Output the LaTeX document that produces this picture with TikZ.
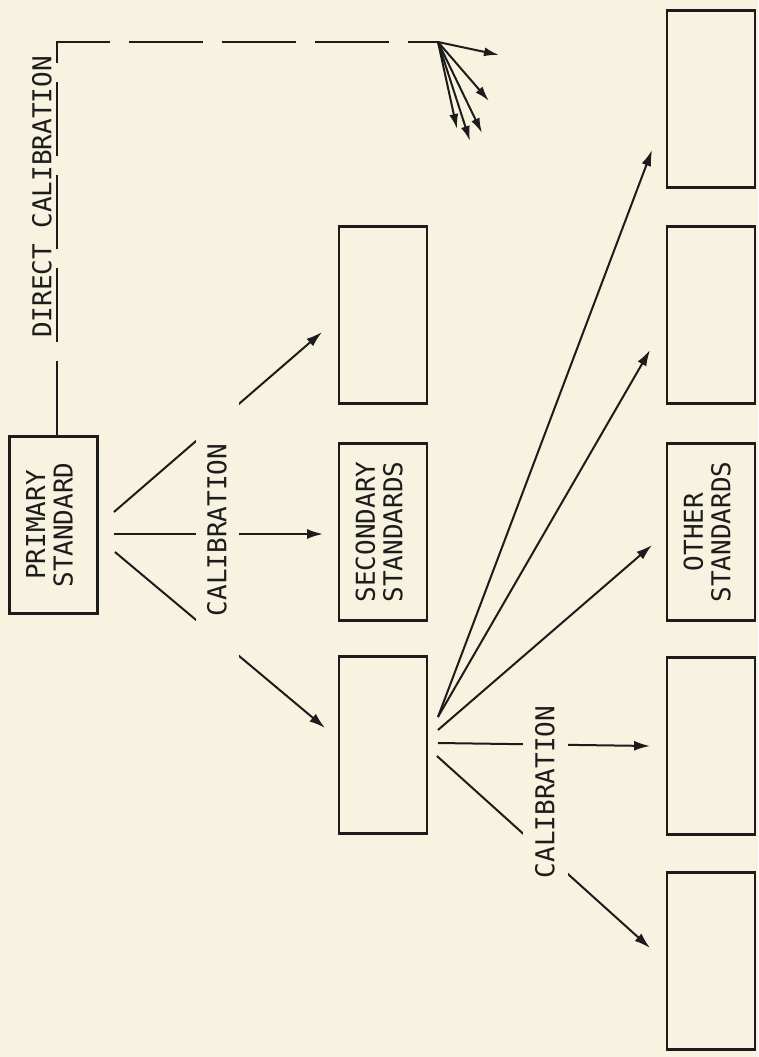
\documentclass[tikz,border=0pt]{standalone}
\usepackage{fontspec}
\usepackage{graphicx}
\usepackage{tikz}
\usetikzlibrary{calc}
\usetikzlibrary{arrows.meta}

\newfontfamily\chartfont{DejaVu Sans Mono}
\definecolor{paper}{RGB}{248,243,224}
\definecolor{ink}{RGB}{28,28,28}

\newcommand{\stdtext}[2]{\rotatebox{90}{\begin{tabular}{@{}c@{}}#1\\#2\end{tabular}}}

\tikzset{
  stdbox/.style={draw=ink, line width=2.9pt, minimum width=88pt, minimum height=177pt,
    inner sep=0pt, text=ink, font=\chartfont\fontsize{26}{27}\selectfont},
  calarrow/.style={draw=ink, line width=2pt, -{Latex[length=16pt,width=10pt]}},
  callabel/.style={fill=paper, rotate=90, inner sep=0pt, text=ink,
    font=\chartfont\fontsize{26}{27}\selectfont}
}

\begin{document}
\begin{tikzpicture}[x=1pt, y=-1pt]

\fill[paper] (0,0) rectangle (758,1057);
\useasboundingbox (0,0) rectangle (758,1057);

%================ BOXES ==================
\node[stdbox] (primary) at (53.5,525) {\stdtext{PRIMARY}{STANDARD}};

\node[stdbox] (midtop) at (383,315) {};
\node[stdbox] (secondary) at (383,532) {\stdtext{SECONDARY}{STANDARDS}};
\node[stdbox] (midlow) at (383,745) {};

\node[stdbox] (r1) at (711,99) {};
\node[stdbox] (r2) at (711,315) {};
\node[stdbox] (r3) at (711,532) {\stdtext{OTHER}{STANDARDS}};
\node[stdbox] (r4) at (711,746) {};
\node[stdbox] (r5) at (711,961) {};

%================ DIRECT CALIBRATION ==================
\coordinate (corner) at (57,42);
\coordinate (spread) at (438,42);
\coordinate (d1) at (499,55);
\coordinate (d2) at (489,101);
\coordinate (d3) at (482,133);
\coordinate (d4) at (470,141);
\coordinate (d5) at (457,129);

\draw[ink, line width=2pt, dash pattern=on 74pt off 19pt]
  ($(primary.north)+(3.5,0)$) -- (corner) -- (spread);
\foreach \tip in {d1,d2,d3,d4,d5} {
  \draw[calarrow, -{Latex[length=15pt,width=9pt]}] (spread) -- (\tip);
}
\node[rotate=90, text=ink, font=\chartfont\fontsize{26}{27}\selectfont]
  (directlabel) at (42,197) {DIRECT CALIBRATION};

%================ FIRST CALIBRATION ==================
\draw[calarrow] ($(primary.east)+(15,-13)$) -- ($(midtop.west)+(-15.5,17)$);
\draw[calarrow] ($(primary.east)+(15,9)$) -- ($(secondary.west)+(-14.5,2)$);
\draw[calarrow] ($(primary.east)+(16,27)$) -- ($(midlow.west)+(-12.5,-17)$);

%================ SECOND CALIBRATION ==================
\foreach \tgt/\sx/\sy/\ex/\ey in {r1/9.5/-28/-13.5/51, r2/9.5/-28/-15.5/35,
    r3/9.5/-15/-13.5/13, r4/9.5/-2/-15.5/0, r5/8.5/11/-15.5/-13} {
  \draw[calarrow] ($(midlow.east)+(\sx,\sy)$) -- ($(\tgt.west)+(\ex,\ey)$);
}

%================ LABELS ==================
\node[callabel, minimum width=262pt, minimum height=43pt] (cal1) at (217,530) {CALIBRATION};
\node[callabel, minimum width=200pt, minimum height=45pt] (cal2) at (545,792) {CALIBRATION};

\end{tikzpicture}
\end{document}
